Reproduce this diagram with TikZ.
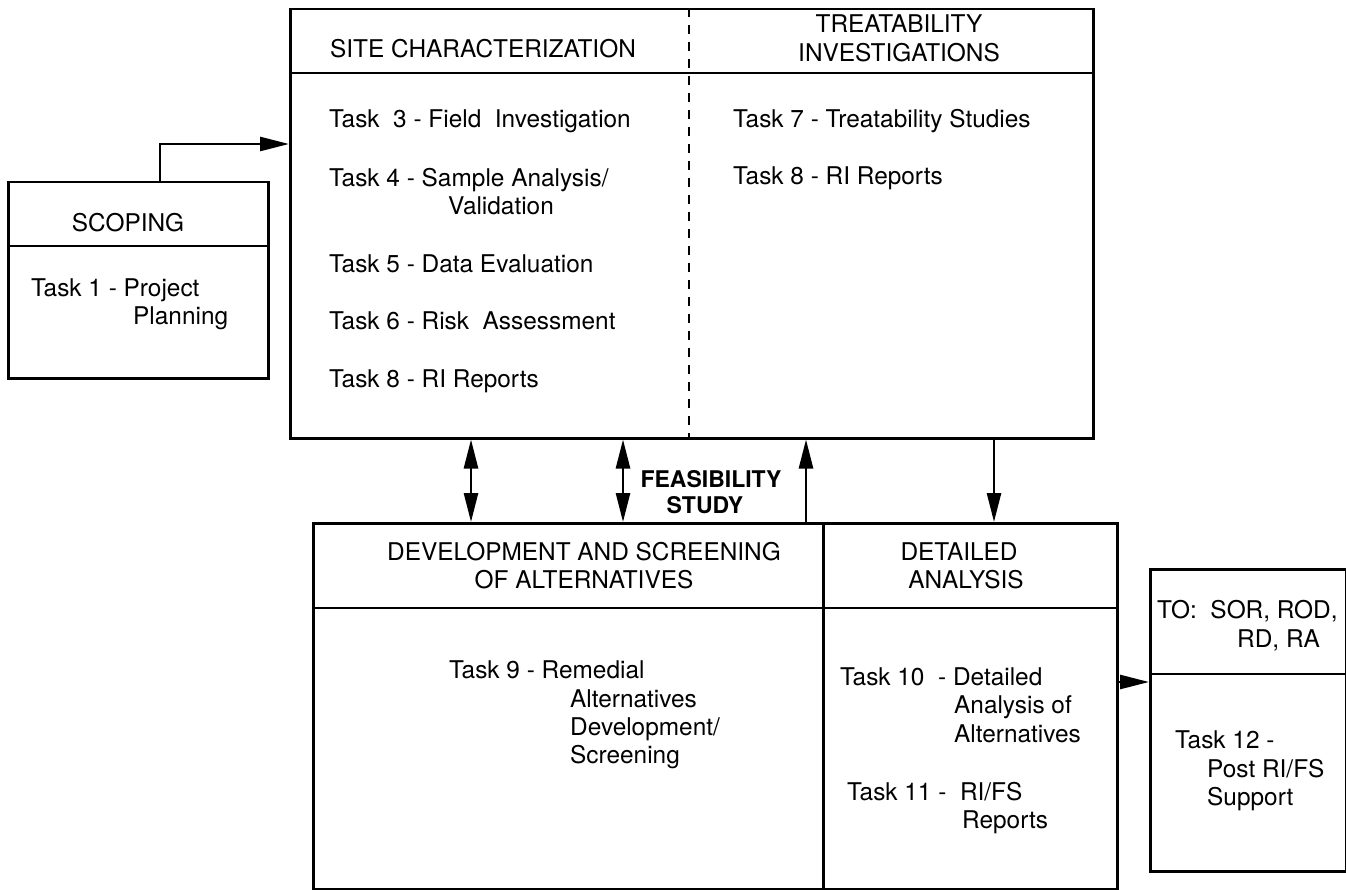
\documentclass[tikz,border=0pt]{standalone}
\usepackage{fontspec}
\setmainfont{TeX Gyre Heros}
\usetikzlibrary{arrows.meta}
\begin{document}
\begin{tikzpicture}[x=1pt,y=-1pt,
  box/.style={draw, line width=2.5pt, inner sep=0pt, anchor=north west},
  rule/.style={line width=2.5pt},
  divider/.style={line width=1.8pt, dash pattern=on 9pt off 8pt},
  arr/.style={line width=2.6pt, -{Triangle[length=29pt,width=14pt]}},
  darr/.style={line width=2.6pt, {Triangle[length=29pt,width=14pt]}-{Triangle[length=29pt,width=14pt]}},
  tx/.style={inner sep=0pt, anchor=base west, font=\fontsize{24.4}{29}\selectfont},
  hd/.style={tx, anchor=base},
  bd/.style={inner sep=0pt, anchor=base, font=\fontsize{23}{28}\selectfont\bfseries}]
\useasboundingbox (0,0) rectangle (1346,890);
\fill[white] (0,0) rectangle (1346,890);

% boxes
\node[box, minimum width=260pt, minimum height=196pt] (scope) at (7,181) {};
\draw[rule] ([yshift=-65pt]scope.north west) -- ([yshift=-65pt]scope.north east);

\node[box, minimum width=803pt, minimum height=429pt] (site) at (289,8) {};
\draw[rule] ([yshift=-65pt]site.north west) -- ([yshift=-65pt]site.north east);
\draw[divider] ([xshift=400pt]site.north west) -- ([xshift=400pt]site.south west);

\node[box, minimum width=510pt, minimum height=366pt] (dev) at (312,522) {};
\draw[rule] ([yshift=-86pt]dev.north west) -- ([yshift=-86pt]dev.north east);

\node[box, minimum width=294pt, minimum height=366pt] (det) at (822,522) {};
\draw[rule] ([yshift=-86pt]det.north west) -- ([yshift=-86pt]det.north east);

\node[box, minimum width=196pt, minimum height=302pt] (to) at (1149,568) {};
\draw[rule] ([yshift=-106pt]to.north west) -- ([yshift=-106pt]to.north east);

% connectors
\draw[arr] ([xshift=153pt]scope.north west) |- ([yshift=-136pt]site.north west);
\draw[darr] ([xshift=182pt]site.south west) -- ([xshift=159pt]dev.north west);
\draw[darr] ([xshift=334pt]site.south west) -- ([xshift=311pt]dev.north west);
\draw[arr] ([xshift=494pt]dev.north west) -- ([xshift=517pt]site.south west);
\draw[arr] ([xshift=705pt]site.south west) -- ([xshift=172pt]det.north west);
\draw[arr] ([yshift=-160pt]det.north east) -- ([yshift=-114pt]to.north west);

% scoping
\node[hd] (t-scope) at (128,232) {SCOPING};
\node[tx] (t1a) at (31,297) {Task 1 - Project};
\node[tx] (t1b) at (133,325) {Planning};

% site characterization
\node[hd] (t-site) at (483,58) {SITE CHARACTERIZATION};
\node[tx] (t3) at (329,128) {Task \ 3 - Field \ Investigation};
\node[tx] (t4a) at (329,187) {Task 4 - Sample Analysis/};
\node[tx] (t4b) at (448,215) {Validation};
\node[tx] (t5) at (329,273) {Task 5 - Data Evaluation};
\node[tx] (t6) at (329,330) {Task 6 - Risk \ Assessment};
\node[tx] (t8a) at (329,387) {Task 8 - RI Reports};

% treatability
\node[hd] (t-tr1) at (899,33) {TREATABILITY};
\node[hd] (t-tr2) at (899,62) {INVESTIGATIONS};
\node[tx] (t7) at (733,128) {Task 7 - Treatability Studies};
\node[tx] (t8b) at (733,185) {Task 8 - RI Reports};

% feasibility
\node[bd] (fs1) at (711,487) {FEASIBILITY};
\node[bd] (fs2) at (705,513) {STUDY};

% development
\node[hd] (t-dev1) at (584,560) {DEVELOPMENT AND SCREENING};
\node[hd] (t-dev2) at (584,588) {OF ALTERNATIVES};
\node[tx] (t9a) at (449,678) {Task 9 - Remedial};
\node[tx] (t9b) at (570,707) {Alternatives};
\node[tx] (t9c) at (570,735) {Development/};
\node[tx] (t9d) at (570,763) {Screening};

% detailed
\node[hd] (t-det1) at (959,560) {DETAILED};
\node[hd] (t-det2) at (966,588) {ANALYSIS};
\node[tx] (t10a) at (840,685) {Task 10 \ - Detailed};
\node[tx] (t10b) at (954,713) {Analysis of};
\node[tx] (t10c) at (954,742) {Alternatives};
\node[tx] (t11a) at (847,800) {Task 11 - \ RI/FS};
\node[tx] (t11b) at (962,828) {Reports};

% to
\node[tx] (t-to1) at (1157,618) {TO: \ SOR, ROD,};
\node[tx] (t-to2) at (1237,647) {RD, RA};
\node[tx] (t12a) at (1175,748) {Task 12 -};
\node[tx] (t12b) at (1207,777) {Post RI/FS};
\node[tx] (t12c) at (1207,805) {Support};
\end{tikzpicture}
\end{document}
